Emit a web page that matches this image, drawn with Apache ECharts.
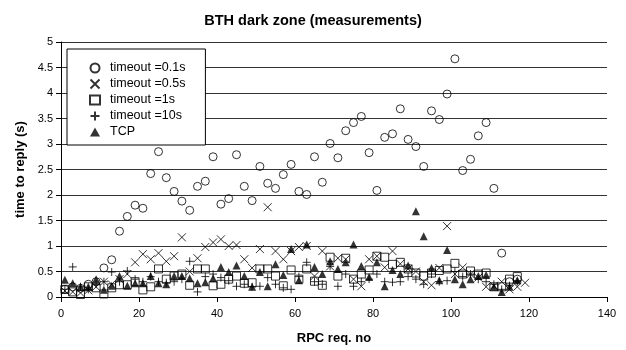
<!DOCTYPE html>
<html><head><meta charset="utf-8">
<script src="https://cdn.jsdelivr.net/npm/echarts@6/dist/echarts.min.js"></script>
<style>html,body{margin:0;padding:0;background:#fff}#c{width:626px;height:350px}</style>
</head><body><div id="c"></div>
<script>
const xTicks = [0, 20, 40, 60, 80, 100, 120, 140];
const yTicks = [0, 0.5, 1, 1.5, 2, 2.5, 3, 3.5, 4, 4.5, 5];
const seriesNames = ['timeout =0.1s', 'timeout =0.5s', 'timeout =1s', 'timeout =10s', 'TCP'];

const t01 = [[1,0.15],[3,0.2],[5,0.17],[7,0.25],[9,0.3],[11,0.57],[13,0.73],[15,1.29],[17,1.58],[19,1.80],[21,1.74],[23,2.42],[25,2.85],[27,2.34],[29,2.07],[31,1.88],[33,1.70],[35,2.17],[37,2.27],[39,2.75],[41,1.82],[43,1.93],[45,2.79],[47,2.17],[49,1.89],[51,2.56],[53,2.23],[55,2.13],[57,2.40],[59,2.60],[61,2.07],[63,2.01],[65,2.75],[67,2.25],[69,3.01],[71,2.73],[73,3.26],[75,3.42],[77,3.54],[79,2.83],[81,2.09],[83,3.13],[85,3.20],[87,3.69],[89,3.09],[91,2.95],[93,2.56],[95,3.65],[97,3.48],[99,3.98],[101,4.67],[103,2.48],[105,2.70],[107,3.16],[109,3.42],[111,2.13],[113,0.86],[115,0.3],[117,0.35]];

const t05 = [[1,0.12],[3,0.1],[5,0.08],[7,0.13],[9,0.2],[11,0.3],[13,0.25],[15,0.35],[17,0.45],[19,0.68],[21,0.84],[23,0.74],[25,0.86],[27,0.70],[29,0.80],[31,1.17],[33,0.50],[35,0.76],[37,0.98],[39,1.07],[41,1.13],[43,1.0],[45,1.02],[47,0.74],[49,0.57],[51,0.94],[53,1.76],[55,0.90],[57,0.74],[59,0.90],[61,0.98],[63,1.0],[65,0.41],[67,0.9],[69,0.6],[71,0.76],[73,0.74],[75,0.35],[77,0.21],[79,0.74],[81,0.80],[83,0.58],[85,0.9],[87,0.65],[89,0.55],[91,0.5],[93,0.3],[95,0.23],[97,0.57],[99,1.39],[101,0.45],[103,0.58],[105,0.45],[107,0.38],[109,0.2],[111,0.22],[113,0.3],[115,0.15],[117,0.2],[119,0.28]];

const t1 = [[1,0.15],[3,0.1],[5,0.05],[7,0.2],[9,0.18],[11,0.06],[13,0.18],[15,0.24],[17,0.24],[19,0.3],[21,0.14],[23,0.2],[25,0.55],[27,0.35],[29,0.41],[31,0.45],[33,0.23],[35,0.55],[37,0.55],[39,0.22],[41,0.25],[43,0.35],[45,0.41],[47,0.27],[49,0.28],[51,0.55],[53,0.55],[55,0.41],[57,0.22],[59,0.53],[61,0.35],[63,0.55],[65,0.31],[67,0.23],[69,0.78],[71,0.41],[73,0.76],[75,0.35],[77,0.45],[79,0.53],[81,0.8],[83,0.78],[85,0.64],[87,0.68],[89,0.55],[91,0.47],[93,0.41],[95,0.47],[97,0.52],[99,0.55],[101,0.66],[103,0.45],[105,0.51],[107,0.45],[109,0.47],[111,0.2],[113,0.2],[115,0.35],[117,0.4]];

const t10 = [[1,0.15],[3,0.59],[5,0.2],[7,0.15],[9,0.25],[11,0.3],[13,0.49],[15,0.3],[17,0.51],[19,0.35],[21,0.3],[23,0.4],[25,0.3],[27,0.28],[29,0.3],[31,0.35],[33,0.7],[35,0.1],[37,0.4],[39,0.45],[41,0.38],[43,0.32],[45,0.21],[47,0.25],[49,0.2],[51,0.21],[53,0.38],[55,0.25],[57,0.18],[59,0.15],[61,0.4],[63,0.68],[65,0.3],[67,0.25],[69,0.6],[71,0.21],[73,0.45],[75,0.21],[77,0.3],[79,0.35],[81,0.45],[83,0.3],[85,0.29],[87,0.3],[89,0.4],[91,0.35],[93,0.25],[95,0.45],[97,0.3],[99,0.32],[101,0.5],[103,0.4],[105,0.45],[107,0.35],[109,0.3],[111,0.25],[113,0.15],[115,0.22],[117,0.3]];

const tcp = [[1,0.34],[3,0.27],[5,0.2],[7,0.2],[9,0.35],[11,0.14],[13,0.22],[15,0.41],[17,0.22],[19,0.27],[21,0.27],[23,0.41],[25,0.27],[27,0.25],[29,0.41],[31,0.41],[33,0.37],[35,0.27],[37,0.29],[39,0.37],[41,0.59],[43,0.49],[45,0.62],[47,0.41],[49,0.2],[51,0.49],[53,0.21],[55,0.64],[57,0.43],[59,0.94],[61,0.33],[63,1.03],[65,0.59],[67,0.45],[69,0.7],[71,0.55],[73,0.68],[75,1.03],[77,0.61],[79,0.39],[81,0.68],[83,0.21],[85,0.53],[87,0.45],[89,0.62],[91,1.68],[93,1.19],[95,0.57],[97,0.33],[99,0.92],[101,0.35],[103,0.25],[105,0.35],[107,0.41],[109,0.43],[111,0.2],[113,0.1],[115,0.2],[117,0.33]];

const FONT = 'Liberation Sans, Arial, sans-serif';
const crossPath = 'path://M0,0L10,10M10,0L0,10';
const plusPath = 'path://M5,0L5,10M0,5L10,5';
const hollow = {color: 'transparent', borderColor: '#000', borderWidth: 1};
const lineStyle = {color: 'none', borderColor: '#000', borderWidth: 1};

const chart = echarts.init(document.getElementById('c'), null, {renderer: 'canvas'});
chart.setOption({
  animation: false,
  backgroundColor: '#fff',
  title: {
    text: 'BTH dark zone (measurements)', left: 'center', top: 8,
    textStyle: {fontFamily: FONT, fontSize: 14.5, fontWeight: 'bold', color: '#000'}
  },
  grid: {left: 61, right: 19, top: 42, bottom: 52, containLabel: false},
  legend: {
    orient: 'vertical', left: 67, top: 49,
    padding: [12, 20, 6, 21],
    borderColor: '#000', borderWidth: 1, backgroundColor: '#fff', borderRadius: 0,
    itemWidth: 10, itemHeight: 9, itemGap: 2,
    textStyle: {fontFamily: FONT, fontSize: 12.5, lineHeight: 14, color: '#000', padding: [0, 0, 0, 5]},
    data: seriesNames
  },
  xAxis: {
    type: 'value', min: xTicks[0], max: xTicks[xTicks.length - 1], interval: 20,
    name: 'RPC req. no', nameLocation: 'middle', nameGap: 35,
    nameTextStyle: {fontFamily: FONT, fontSize: 13, fontWeight: 'bold', color: '#000'},
    axisLine: {show: true, lineStyle: {color: '#000', width: 1}},
    axisTick: {show: true, length: 5, lineStyle: {color: '#000'}},
    axisLabel: {fontFamily: FONT, fontSize: 11, color: '#000', margin: 11},
    splitLine: {show: false}
  },
  yAxis: {
    type: 'value', min: yTicks[0], max: yTicks[yTicks.length - 1], interval: 0.5,
    name: 'time to reply (s)', nameLocation: 'middle', nameGap: 33, nameRotate: 90,
    nameTextStyle: {fontFamily: FONT, fontSize: 13, fontWeight: 'bold', color: '#000'},
    axisLine: {show: true, lineStyle: {color: '#000', width: 1}},
    axisTick: {show: true, length: 5, lineStyle: {color: '#000'}},
    axisLabel: {fontFamily: FONT, fontSize: 11, color: '#000', margin: 8},
    splitLine: {show: true, lineStyle: {color: '#333', width: 1}}
  },
  series: [
    {name: seriesNames[0], type: 'scatter', data: t01, symbol: 'circle', symbolSize: 8, itemStyle: hollow},
    {name: seriesNames[1], type: 'scatter', data: t05, symbol: crossPath, symbolSize: 8, itemStyle: lineStyle},
    {name: seriesNames[2], type: 'scatter', data: t1, symbol: 'rect', symbolSize: 8, itemStyle: hollow},
    {name: seriesNames[3], type: 'scatter', data: t10, symbol: plusPath, symbolSize: 8, itemStyle: lineStyle},
    {name: seriesNames[4], type: 'scatter', data: tcp, symbol: 'triangle', symbolSize: 8, itemStyle: {color: '#000'}}
  ]
});
</script></body></html>
